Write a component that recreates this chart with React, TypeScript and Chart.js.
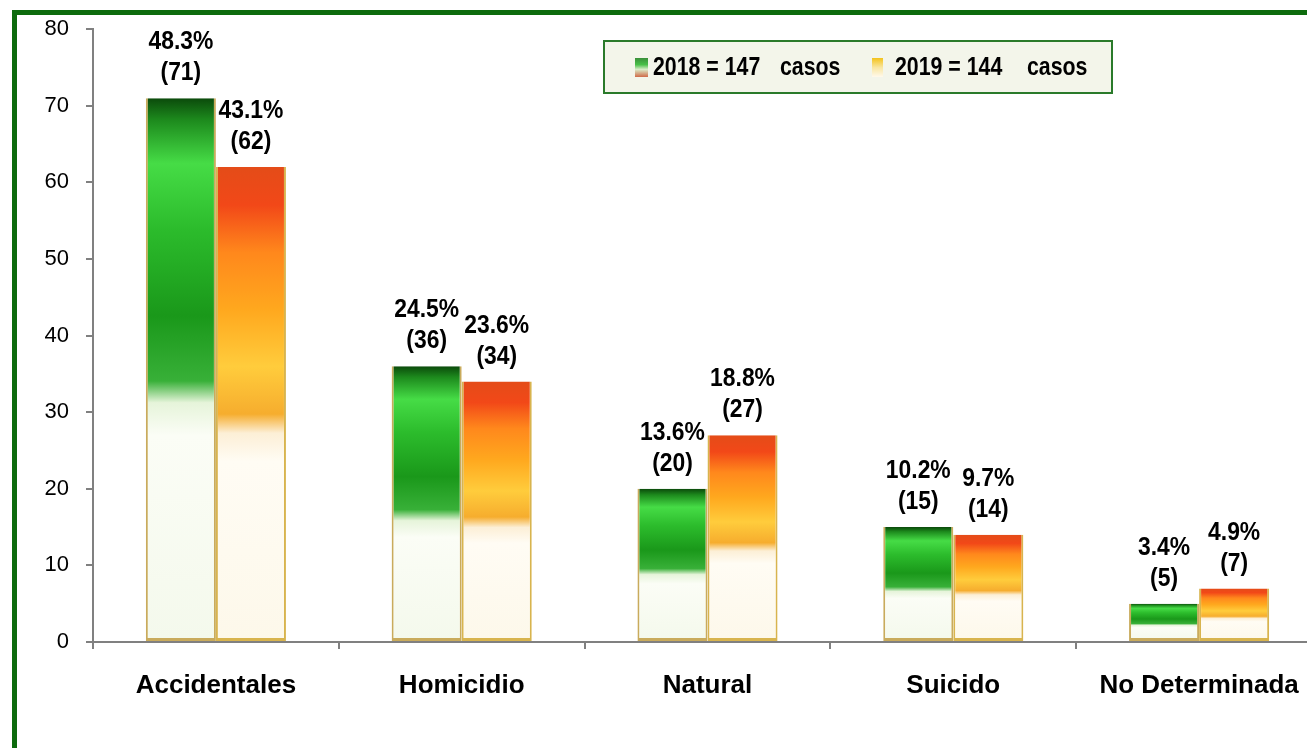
import React, { useEffect, useRef } from "react";
import { Chart, registerables } from "chart.js";

Chart.register(...registerables);

const categories = ["Accidentales", "Homicidio", "Natural", "Suicido", "No Determinada"];
const cases2018 = [71, 36, 20, 15, 5];
const cases2019 = [62, 34, 27, 14, 7];
const pct2018 = ["48.3%", "24.5%", "13.6%", "10.2%", "3.4%"];
const pct2019 = ["43.1%", "23.6%", "18.8%", "9.7%", "4.9%"];
const yMin = 0;
const yMax = 80;
const yStep = 10;
const legendYears = ["2018 = 147", "2019 = 144"];
const legendUnit = "casos";

const FONT = '"Liberation Sans", Arial, Helvetica, sans-serif';

const GREEN_STOPS: [number, string][] = [
  [0, "#0b4a0b"],
  [0.04, "#1d8a1d"],
  [0.12, "#46dc46"],
  [0.24, "#2cbc2c"],
  [0.4, "#1a981a"],
  [0.52, "#38b038"],
  [0.56, "#e6f4da"],
  [0.62, "#fbfdf6"],
  [1, "#f4f9ec"],
];
const ORANGE_STOPS: [number, string][] = [
  [0, "#e44c18"],
  [0.08, "#f24818"],
  [0.18, "#ff881c"],
  [0.3, "#ffa81e"],
  [0.42, "#ffcc3c"],
  [0.52, "#f6ad2e"],
  [0.56, "#fcefd6"],
  [0.62, "#fffcf4"],
  [1, "#fdf8ea"],
];

function barFill(stops: [number, string][], fallback: string) {
  return (ctx: any) => {
    const chart = ctx.chart;
    const { chartArea, scales } = chart;
    if (!chartArea || ctx.type !== "data") return fallback;
    const v = ctx.raw as number;
    const top = scales.y.getPixelForValue(v);
    const base = scales.y.getPixelForValue(0);
    if (!isFinite(top) || !isFinite(base) || base - top < 1) return fallback;
    const g = chart.ctx.createLinearGradient(0, top, 0, base);
    stops.forEach(([o, c]) => g.addColorStop(o, c));
    return g;
  };
}

function drawScaledText(ctx: any, t: string, x: number, y: number, sx: number) {
  ctx.save();
  ctx.translate(x, y);
  ctx.scale(sx, 1);
  ctx.fillText(t, 0, 0);
  ctx.restore();
}

const valueLabels = {
  id: "valueLabels",
  afterDatasetsDraw(chart: any) {
    const ctx = chart.ctx;
    ctx.save();
    ctx.font = `bold 26px ${FONT}`;
    ctx.fillStyle = "#000";
    ctx.textAlign = "center";
    ctx.textBaseline = "middle";
    chart.data.datasets.forEach((ds: any, di: number) => {
      const meta = chart.getDatasetMeta(di);
      const pcts = di === 0 ? pct2018 : pct2019;
      meta.data.forEach((el: any, i: number) => {
        const { x, y } = el.getProps(["x", "y"], true);
        drawScaledText(ctx, `(${ds.data[i]})`, x, y - 25, 0.88);
        drawScaledText(ctx, pcts[i], x, y - 56, 0.88);
      });
    });
    ctx.restore();
  },
};

const boxLegend = {
  id: "boxLegend",
  afterDraw(chart: any) {
    const ctx = chart.ctx;
    ctx.save();
    const bx = 587, by = 42, bw = 508, bh = 52;
    ctx.fillStyle = "#f3f5ea";
    ctx.fillRect(bx, by, bw, bh);
    ctx.strokeStyle = "#2a7a2a";
    ctx.lineWidth = 2;
    ctx.strokeRect(bx, by, bw, bh);

    const m1 = ctx.createLinearGradient(0, 59, 0, 78);
    m1.addColorStop(0, "#3a8f3a");
    m1.addColorStop(0.35, "#48c048");
    m1.addColorStop(0.6, "#d9ecc8");
    m1.addColorStop(1, "#d06a48");
    ctx.fillStyle = m1;
    ctx.fillRect(618, 59, 13, 19);
    const m2 = ctx.createLinearGradient(0, 59, 0, 78);
    m2.addColorStop(0, "#f3c21a");
    m2.addColorStop(0.5, "#f9e6a0");
    m2.addColorStop(1, "#fff9ec");
    ctx.fillStyle = m2;
    ctx.fillRect(855, 59, 11, 19);

    ctx.fillStyle = "#000";
    ctx.font = `bold 26px ${FONT}`;
    ctx.textAlign = "left";
    ctx.textBaseline = "middle";
    drawScaledText(ctx, legendYears[0], 636, 69, 0.82);
    drawScaledText(ctx, legendUnit, 763, 69, 0.82);
    drawScaledText(ctx, legendYears[1], 878, 69, 0.82);
    drawScaledText(ctx, legendUnit, 1010, 69, 0.82);
    ctx.restore();
  },
};

export default function App() {
  const ref = useRef<HTMLCanvasElement | null>(null);

  useEffect(() => {
    const canvas = ref.current;
    if (!canvas) return;
    const chart = new Chart(canvas, {
      type: "bar",
      data: {
        labels: categories,
        datasets: [
          {
            label: legendYears[0],
            data: cases2018,
            backgroundColor: barFill(GREEN_STOPS, "#22a022"),
            borderColor: "#c9ab5c",
            borderWidth: { left: 2, right: 2, top: 0, bottom: 3 },
            borderSkipped: false,
            categoryPercentage: 0.57,
            barPercentage: 1,
          },
          {
            label: legendYears[1],
            data: cases2019,
            backgroundColor: barFill(ORANGE_STOPS, "#ffa020"),
            borderColor: "#d8b44e",
            borderWidth: { left: 2, right: 2, top: 0, bottom: 3 },
            borderSkipped: false,
            categoryPercentage: 0.57,
            barPercentage: 1,
          },
        ],
      },
      options: {
        responsive: false,
        animation: false,
        devicePixelRatio: 1,
        layout: { padding: { top: -2, left: 0, right: 0, bottom: 0 } },
        plugins: {
          legend: { display: false },
          tooltip: { enabled: false },
        },
        scales: {
          x: {
            offset: true,
            grid: {
              display: true,
              offset: true,
              drawOnChartArea: false,
              drawTicks: true,
              tickLength: 7,
              color: "#808080",
              lineWidth: 2,
            },
            border: { display: true, color: "#808080", width: 2 },
            ticks: {
              color: "#000",
              font: { family: FONT, size: 26, weight: "bold" },
              padding: 21,
              maxRotation: 0,
              autoSkip: false,
            },
            afterFit(scale: any) {
              scale.height = 106;
            },
          },
          y: {
            min: yMin,
            max: yMax,
            grid: {
              display: true,
              drawOnChartArea: false,
              drawTicks: true,
              tickLength: 7,
              color: "#808080",
              lineWidth: 2,
            },
            border: { display: true, color: "#808080", width: 2 },
            ticks: {
              stepSize: yStep,
              color: "#000",
              font: { family: FONT, size: 22 },
              padding: 17,
            },
            afterFit(scale: any) {
              scale.width = 76;
            },
          },
        },
      },
      plugins: [valueLabels, boxLegend],
    });
    return () => chart.destroy();
  }, []);

  return (
    <div
      style={{
        position: "fixed",
        left: 0,
        top: 0,
        width: 1307,
        height: 748,
        overflow: "hidden",
        background: "#fff",
      }}
    >
      <div
        style={{
          position: "absolute",
          left: 12,
          top: 10,
          width: 1400,
          height: 800,
          border: "5px solid #0d6b0d",
          boxSizing: "border-box",
        }}
      >
        <canvas
          ref={ref}
          width={1305}
          height={749}
          style={{ position: "absolute", left: 0, top: -16, width: 1305, height: 749 }}
        />
      </div>
    </div>
  );
}
